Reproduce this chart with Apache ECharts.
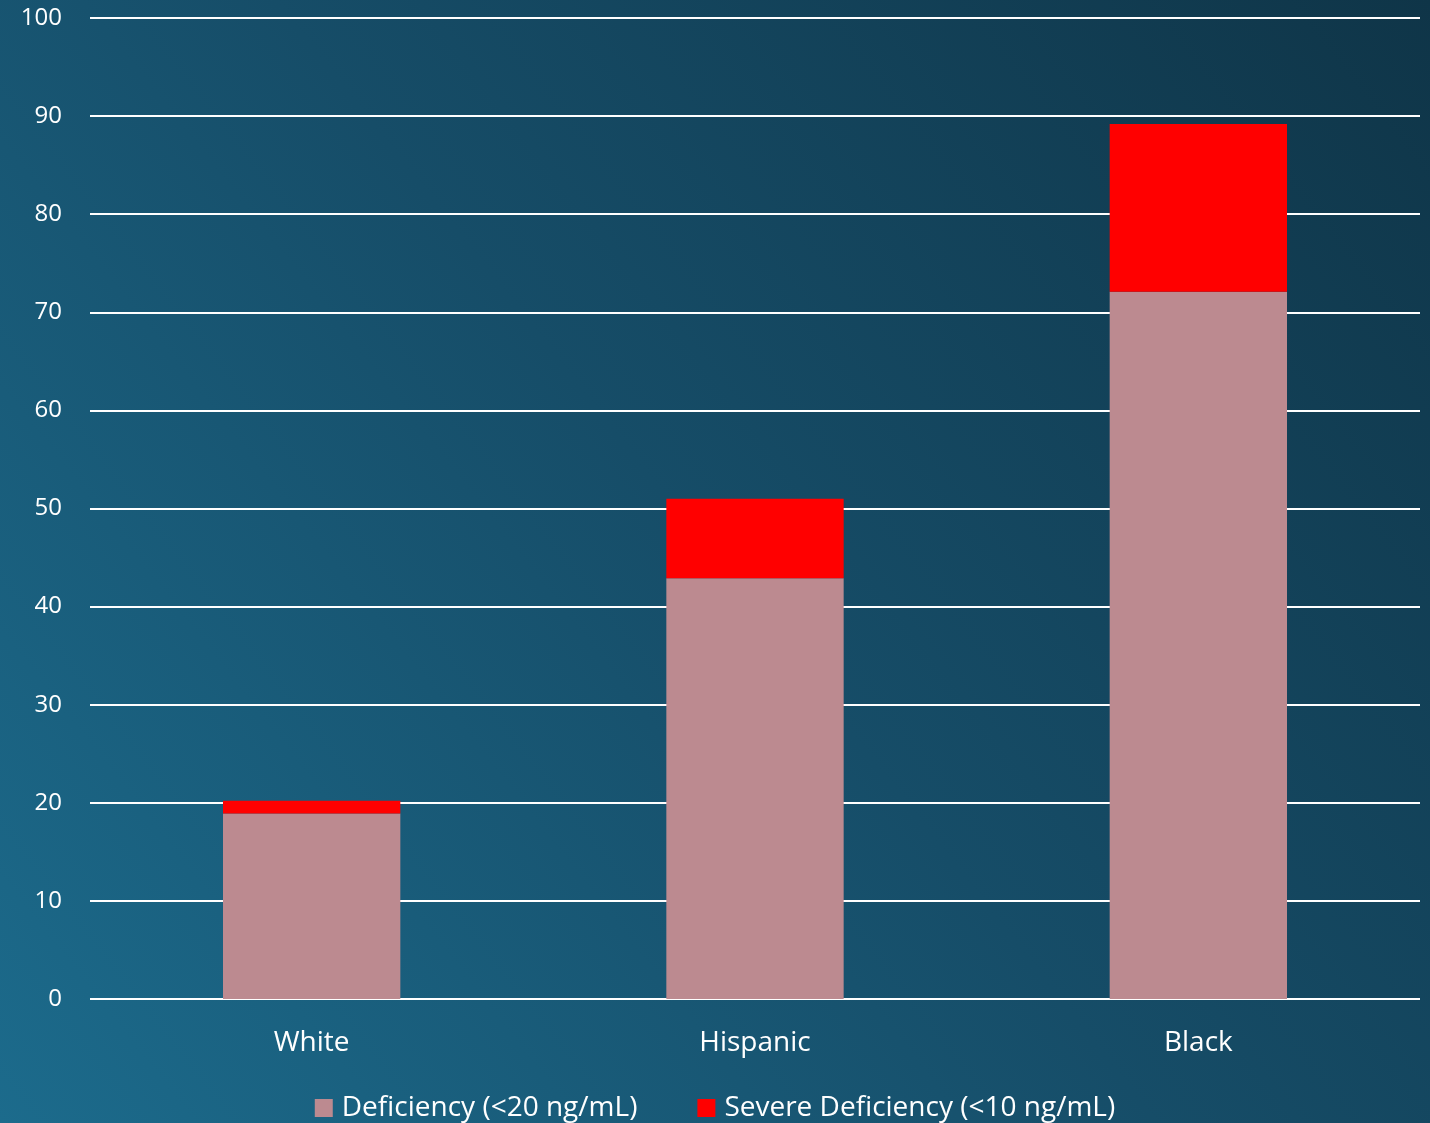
<!DOCTYPE html>
<html>
<head>
<meta charset="utf-8">
<script src="https://cdn.jsdelivr.net/npm/echarts@6/dist/echarts.min.js"></script>
<style>
html,body{margin:0;padding:0;}
#chart{width:1430px;height:1123px;}
</style>
</head>
<body>
<div id="chart"></div>
<script>
const categories = ['White', 'Hispanic', 'Black'];
const deficiency = [18.9, 42.9, 72.1];
const severeDeficiency = [1.3, 8.1, 17.1];
const seriesNames = ['Deficiency (<20 ng/mL)', 'Severe Deficiency (<10 ng/mL)'];

const chart = echarts.init(document.getElementById('chart'));
const font = '"Open Sans", Lato, sans-serif';
chart.setOption({
  backgroundColor: {
    type: 'linear', x: 0, y: 1, x2: 1, y2: 0,
    colorStops: [
      {offset: 0, color: '#1c6b8c'},
      {offset: 0.5, color: '#164d68'},
      {offset: 1, color: '#0f3548'}
    ]
  },
  textStyle: {fontFamily: font},
  grid: {left: 90, right: 10, top: 18, bottom: 124, containLabel: false},
  legend: {
    top: 1089,
    left: 'center',
    itemWidth: 18,
    itemHeight: 18,
    itemGap: 60,
    icon: 'rect',
    textStyle: {color: '#ffffff', fontSize: 28, fontFamily: font, padding: [0,0,0,4]},
    data: seriesNames
  },
  xAxis: {
    type: 'category',
    data: categories,
    axisLine: {show: false},
    axisTick: {show: false},
    axisLabel: {color: '#ffffff', fontSize: 28, margin: 30, fontFamily: font}
  },
  yAxis: {
    type: 'value',
    min: 0, max: 100, interval: 10,
    axisLine: {show: false},
    axisTick: {show: false},
    axisLabel: {color: '#ffffff', fontSize: 24, margin: 28, fontFamily: font},
    splitLine: {lineStyle: {color: '#ffffff', width: 2}}
  },
  series: [
    {
      name: seriesNames[0], type: 'bar', stack: 'total', data: deficiency,
      barWidth: '40%',
      itemStyle: {color: '#bc8a90'}
    },
    {
      name: seriesNames[1], type: 'bar', stack: 'total', data: severeDeficiency,
      barWidth: '40%',
      itemStyle: {color: '#ff0000'}
    }
  ]
});
</script>
</body>
</html>
